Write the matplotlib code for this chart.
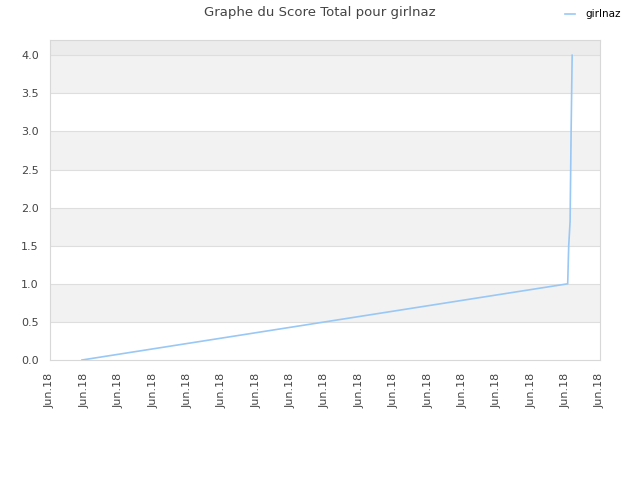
import numpy as np
import matplotlib
matplotlib.use('Agg')
import matplotlib.pyplot as plt

# time positions (in tick units) and score values
times = [0.93, 15.06, 15.09, 15.13, 15.16, 15.19]
scores = [0.0, 1.0, 1.5, 1.82, 3.0, 4.0]
tick_pos = list(range(17))
tick_labels = ['Jun.18'] * 17
player = 'girlnaz'

fig = plt.figure(figsize=(6.4, 4.8), dpi=100)
ax = fig.add_axes([50 / 640, 1 - 360 / 480, 550 / 640, 320 / 480])

ax.set_xlim(0, 16)
ax.set_ylim(0, 4.2)

# alternating bands
for y0 in np.arange(0.5, 4.0, 1.0):
    ax.axhspan(y0, y0 + 0.5, color='#f2f2f2', zorder=0, lw=0)
ax.axhspan(4.0, 4.2, color='#ececec', zorder=0, lw=0)
for y in np.arange(0.5, 4.01, 0.5):
    ax.axhline(y, color='#dedede', lw=0.8, zorder=1)

ax.plot(times, scores, color='#99c8f5', lw=1.2, label=player, zorder=3)

ax.set_yticks(np.arange(0, 4.01, 0.5))
ax.set_yticklabels(['%.1f' % v for v in np.arange(0, 4.01, 0.5)])
ax.set_xticks(tick_pos)
ax.set_xticklabels(tick_labels, rotation=90)
ax.tick_params(length=0, labelsize=8, colors='#444444')
ax.tick_params(axis='x', pad=9)
ax.tick_params(axis='y', pad=8)

for s in ax.spines.values():
    s.set_color('#d8d8d8')

fig.suptitle('Graphe du Score Total pour girlnaz', fontsize=9.5, color='#444444', y=0.987)
fig.legend(loc='upper right', bbox_to_anchor=(0.985, 1.0), frameon=False, fontsize=7.5,
           handlelength=1.0, handletextpad=1.0)

plt.savefig('out.png')
